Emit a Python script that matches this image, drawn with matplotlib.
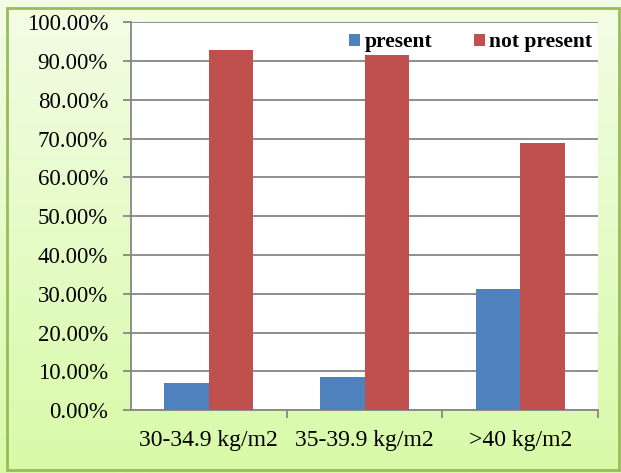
import numpy as np
import matplotlib.pyplot as plt
from matplotlib.patches import Rectangle

categories = ['30-34.9 kg/m2', '35-39.9 kg/m2', '>40 kg/m2']
present = [7.1, 8.5, 31.2]
not_present = [92.9, 91.5, 68.8]
yticks = np.arange(0, 101, 10)

plt.rcParams['font.family'] = ['Liberation Serif', 'DejaVu Serif']

fig = plt.figure(figsize=(6.21, 4.73), dpi=100)

# gradient background
bg = fig.add_axes([0, 0, 1, 1], zorder=-2)
top = np.array([243, 253, 230]) / 255
bot = np.array([216, 250, 168]) / 255
t = np.linspace(0, 1, 200)[:, None]
grad = top * (1 - t) + bot * t
bg.imshow(grad[:, None, :], aspect='auto', extent=[0, 1, 0, 1])
bg.add_patch(Rectangle((0.011, 0.006), 0.985, 0.978, fill=False,
                       edgecolor='#9BBB59', linewidth=2, transform=bg.transAxes))
bg.set_axis_off()

ax = fig.add_axes([0.211, 0.133, 0.752, 0.820])
x = np.arange(len(categories))
w = 0.286
ax.bar(x - w/2, present, w, color='#4F81BD', label='present', zorder=3)
ax.bar(x + w/2, not_present, w, color='#C0504D', label='not present', zorder=3)

ax.set_xlim(-0.5, 2.5)
ax.set_ylim(0, 100)
ax.set_yticks(yticks)
ax.set_yticklabels(['%.2f%%' % v for v in yticks], fontsize=16.5)
ax.yaxis.grid(True, color='#868686', linewidth=1.3, zorder=0)
ax.set_axisbelow(True)

ax.set_xticks([0.5, 1.5, 2.5], minor=False)
ax.set_xticklabels([])
ax.set_xticks(x, minor=True)
ax.set_xticklabels(categories, minor=True, fontsize=17)
ax.tick_params(axis='x', which='major', length=6, color='#868686', width=1.3)
ax.tick_params(axis='x', which='minor', length=0, pad=14)
ax.tick_params(axis='y', length=5.5, color='#868686', width=1.3, pad=11)

for s in ['top', 'right']:
    ax.spines[s].set_visible(False)
for s in ['left', 'bottom']:
    ax.spines[s].set_color('#868686')
    ax.spines[s].set_linewidth(1.3)

leg = ax.legend(loc='center right', bbox_to_anchor=(0.987, 0.948), ncol=2, frameon=False,
                prop={'weight': 'bold', 'size': 15.5}, handlelength=0.5, handleheight=0.45,
                handletextpad=0.2, columnspacing=1.95, borderaxespad=0, borderpad=0)

fig.savefig('out.png', dpi=100)
